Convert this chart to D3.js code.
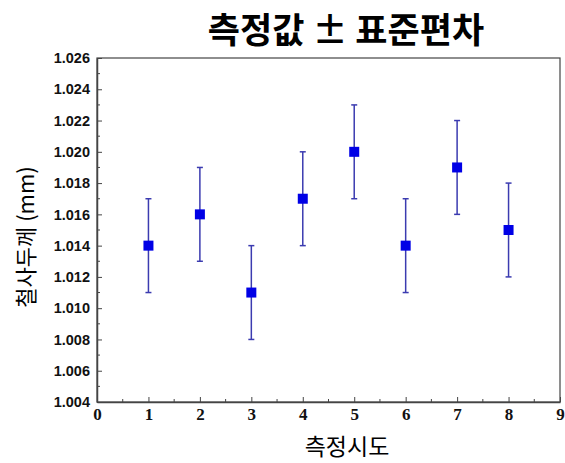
<!DOCTYPE html>
<html>
<head>
<meta charset="utf-8">
<script src="https://cdn.jsdelivr.net/npm/d3@7"></script>
<style>
  body { margin: 0; background: #fff; }
</style>
</head>
<body>
<svg width="565" height="463"></svg>
<script>
// measurement data
var trials = [1, 2, 3, 4, 5, 6, 7, 8];
var means = [1.014, 1.016, 1.011, 1.017, 1.020, 1.014, 1.019, 1.015];
var stds = [0.003, 0.003, 0.003, 0.003, 0.003, 0.003, 0.003, 0.003];
var xTicks = [0, 1, 2, 3, 4, 5, 6, 7, 8, 9];
var yTicks = [1.004, 1.006, 1.008, 1.010, 1.012, 1.014, 1.016, 1.018, 1.020, 1.022, 1.024, 1.026];

var svg = d3.select("svg"),
    margin = { top: 58, right: 5, bottom: 61, left: 97 },
    width = svg.attr("width") - margin.left - margin.right,
    height = svg.attr("height") - margin.top - margin.bottom;

var x = d3.scaleLinear().domain([0, 9]).range([0, width]),
    y = d3.scaleLinear().domain([1.004, 1.026]).range([height, 0]);

var g = svg.append("g")
    .attr("transform", "translate(" + margin.left + "," + margin.top + ")");

var axisColor = "#444";

// frame
g.append("rect")
    .attr("width", width)
    .attr("height", height)
    .attr("fill", "none")
    .attr("stroke", axisColor)
    .attr("stroke-width", 1.2);

// minor ticks
var xMinor = d3.range(0.5, 9, 1);
g.append("g").selectAll("line").data(xMinor).enter().append("line")
    .attr("x1", d => x(d)).attr("x2", d => x(d))
    .attr("y1", height).attr("y2", height - 3)
    .attr("stroke", axisColor);
var yMinor = d3.range(0, 11).map(i => 1.005 + i * 0.002);
g.append("g").selectAll("line").data(yMinor).enter().append("line")
    .attr("x1", 0).attr("x2", 3)
    .attr("y1", d => y(d)).attr("y2", d => y(d))
    .attr("stroke", axisColor);

// X axis
var xAxis = g.append("g")
    .attr("transform", "translate(0," + height + ")")
    .call(d3.axisBottom(x).tickValues(xTicks).tickFormat(d3.format("d")).tickSizeInner(-5).tickSizeOuter(0).tickPadding(6));
xAxis.select(".domain").attr("stroke", axisColor).attr("stroke-width", 1.5);
xAxis.selectAll(".tick line").attr("stroke", axisColor);
xAxis.selectAll("text")
    .style("font-family", "'Liberation Serif', serif")
    .style("font-weight", "bold")
    .style("font-size", "17px")
    .attr("fill", "#111");

// Y axis
var yAxis = g.append("g")
    .call(d3.axisLeft(y).tickValues(yTicks).tickFormat(d3.format(".3f")).tickSizeInner(-5).tickSizeOuter(0).tickPadding(7));
yAxis.select(".domain").attr("stroke", axisColor).attr("stroke-width", 1.5);
yAxis.selectAll(".tick line").attr("stroke", axisColor);
yAxis.selectAll("text")
    .style("font-family", "'Liberation Sans', Arial, sans-serif")
    .style("font-weight", "bold")
    .style("font-size", "14.5px")
    .attr("fill", "#111");

// error bars
var barColor = "#3b3bb0";
var eb = g.append("g").selectAll("g").data(trials).enter().append("g");
eb.append("line")
    .attr("x1", d => x(d)).attr("x2", d => x(d))
    .attr("y1", (d, i) => y(means[i] - stds[i]))
    .attr("y2", (d, i) => y(means[i] + stds[i]))
    .attr("stroke", barColor).attr("stroke-width", 1.5);
eb.append("line")
    .attr("x1", d => x(d) - 3).attr("x2", d => x(d) + 3)
    .attr("y1", (d, i) => y(means[i] + stds[i]))
    .attr("y2", (d, i) => y(means[i] + stds[i]))
    .attr("stroke", barColor).attr("stroke-width", 1.5);
eb.append("line")
    .attr("x1", d => x(d) - 3).attr("x2", d => x(d) + 3)
    .attr("y1", (d, i) => y(means[i] - stds[i]))
    .attr("y2", (d, i) => y(means[i] - stds[i]))
    .attr("stroke", barColor).attr("stroke-width", 1.5);

// markers
g.append("g").selectAll("rect").data(trials).enter().append("rect")
    .attr("x", d => x(d) - 5)
    .attr("y", (d, i) => y(means[i]) - 5)
    .attr("width", 10)
    .attr("height", 10)
    .attr("fill", "#0000e6");

// title
svg.append("text")
    .attr("x", 346)
    .attr("y", 43)
    .attr("text-anchor", "middle")
    .style("font-family", "'Noto Sans CJK KR', sans-serif")
    .style("font-weight", "bold")
    .style("font-size", "35px")
    .text("측정값 ± 표준편차");

// x label
svg.append("text")
    .attr("x", 347)
    .attr("y", 455)
    .attr("text-anchor", "middle")
    .style("font-family", "'Noto Sans CJK KR', sans-serif")
    .style("font-size", "23px")
    .text("측정시도");

// y label
svg.append("text")
    .attr("transform", "rotate(-90)")
    .attr("x", -237)
    .attr("y", 34)
    .attr("text-anchor", "middle")
    .style("font-family", "'Noto Sans CJK KR', sans-serif")
    .style("font-size", "22px")
    .text("철사두께 (mm)");
</script>
</body>
</html>
